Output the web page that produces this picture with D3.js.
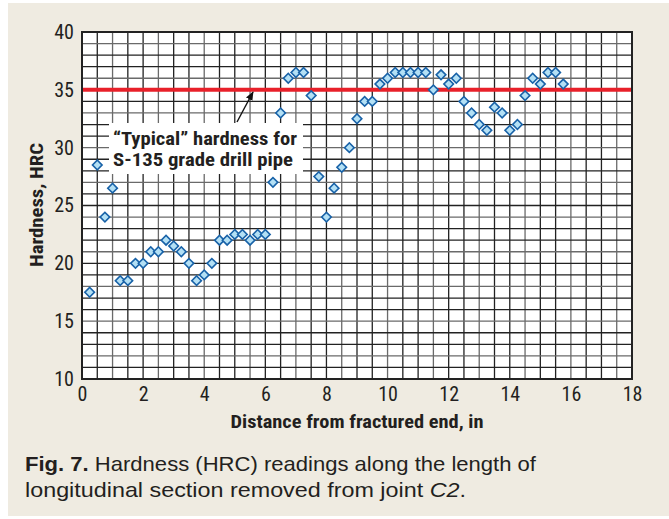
<!DOCTYPE html>
<html><head><meta charset="utf-8">
<script src="https://cdn.jsdelivr.net/npm/d3@7"></script>
<style>
body{margin:0;background:#fff;}
svg{display:block;}
.cond{font-family:"Liberation Sans Narrow","Roboto Condensed","DejaVu Sans Condensed",sans-serif;}
</style></head>
<body>
<svg id="c" width="669" height="519"></svg>
<script>
const distances = [0.25,0.5,0.75,1.0,1.25,1.5,1.75,2.0,2.25,2.5,2.75,3.0,3.25,3.5,3.75,4.0,4.25,4.5,4.75,5.0,5.25,5.5,5.75,6.0,6.25,6.5,6.75,7.0,7.25,7.5,7.75,8.0,8.25,8.5,8.75,9.0,9.25,9.5,9.75,10.0,10.25,10.5,10.75,11.0,11.25,11.5,11.75,12.0,12.25,12.5,12.75,13.0,13.25,13.5,13.75,14.0,14.25,14.5,14.75,15.0,15.25,15.5,15.75];
const hardness = [17.5,28.5,24,26.5,18.5,18.5,20,20,21,21,22,21.5,21,20,18.5,19,20,22,22,22.5,22.5,22,22.5,22.5,27,33,36,36.5,36.5,34.5,27.5,24,26.5,28.3,30,32.5,34,34,35.5,36,36.5,36.5,36.5,36.5,36.5,35,36.3,35.5,36,34,33,32,31.5,33.5,33,31.5,32,34.5,36,35.5,36.5,36.5,35.5];
const typicalHardness = 35;
const xTicks = [0,2,4,6,8,10,12,14,16,18];
const yTicks = [10,15,20,25,30,35,40];
const xDomain = [0,18], yDomain = [10,40];

const svg = d3.select("#c");
svg.append("rect").attr("x",8).attr("y",3).attr("width",661).attr("height",513).attr("fill","#efebe1");

const L=82, R=632, T=32, B=379;
const x = d3.scaleLinear().domain(xDomain).range([L,R]);
const y = d3.scaleLinear().domain(yDomain).range([B,T]);

svg.append("rect").attr("x",L).attr("y",T).attr("width",R-L).attr("height",B-T).attr("fill","#fff");

// grid
const g = svg.append("g");
d3.range(0.5,18,0.5).forEach((v,i)=>{
  g.append("line").attr("x1",x(v)).attr("x2",x(v)).attr("y1",T).attr("y2",B)
   .attr("stroke", i%3===1 ? "#6a6a6a" : "#222").attr("stroke-width",1.3);
});
d3.range(11,40,1).forEach((v,i)=>{
  g.append("line").attr("x1",L).attr("x2",R).attr("y1",y(v)).attr("y2",y(v))
   .attr("stroke", i%3===1 ? "#6a6a6a" : "#222").attr("stroke-width",1.3);
});

// annotation box (white, covers grid)
svg.append("rect").attr("x",109).attr("y",123).attr("width",194).attr("height",51).attr("fill","#fff");

// red line
svg.append("line").attr("x1",L).attr("x2",R).attr("y1",y(typicalHardness)).attr("y2",y(typicalHardness))
  .attr("stroke","#e8202a").attr("stroke-width",4);

// border
svg.append("rect").attr("x",L).attr("y",T).attr("width",R-L).attr("height",B-T)
  .attr("fill","none").attr("stroke","#222").attr("stroke-width",2);

// axes
const xAxis = svg.append("g").attr("transform",`translate(0,${B})`)
  .call(d3.axisBottom(x).tickValues(xTicks).tickSize(0).tickPadding(8).tickFormat(d3.format("d")));
xAxis.select(".domain").remove();
xAxis.selectAll("text").attr("class","cond").attr("font-size",20).attr("fill","#231f20").attr("font-family",null);

const yAxis = svg.append("g").attr("transform",`translate(${L},0)`)
  .call(d3.axisLeft(y).tickValues(yTicks).tickSize(0).tickPadding(8).tickFormat(d3.format("d")));
yAxis.select(".domain").remove();
yAxis.selectAll("text").attr("class","cond").attr("font-size",20).attr("fill","#231f20").attr("font-family",null);

// arrow
svg.append("defs").append("marker").attr("id","ah").attr("viewBox","0 0 10 10").attr("refX",9).attr("refY",5)
  .attr("markerWidth",9).attr("markerHeight",9).attr("orient","auto").attr("markerUnits","userSpaceOnUse")
  .append("path").attr("d","M0,1 L10,5 L0,9 Z").attr("fill","#111");
svg.append("line").attr("x1",237).attr("y1",122).attr("x2",253).attr("y2",92)
  .attr("stroke","#111").attr("stroke-width",1.4).attr("marker-end","url(#ah)");

// annotation text
svg.append("text").attr("class","cond").attr("x",113).attr("y",145).attr("font-size",19).attr("font-weight","bold")
  .attr("fill","#231f20").attr("textLength",184).attr("lengthAdjust","spacingAndGlyphs").text("\u201CTypical\u201D hardness for");
svg.append("text").attr("class","cond").attr("x",113).attr("y",166).attr("font-size",19).attr("font-weight","bold")
  .attr("fill","#231f20").attr("textLength",180).attr("lengthAdjust","spacingAndGlyphs").text("S-135 grade drill pipe");

// points
const sym = d3.symbol().type(d3.symbolSquare).size(46);
svg.append("g").selectAll("path").data(distances).join("path")
  .attr("d",sym)
  .attr("transform",(d,i)=>`translate(${x(d)},${y(hardness[i])}) rotate(45)`)
  .attr("fill","#b3e0f5").attr("stroke","#1862a8").attr("stroke-width",1.6);

// axis titles
svg.append("text").attr("class","cond").attr("x",(L+R)/2).attr("y",428).attr("text-anchor","middle")
  .attr("font-size",19).attr("font-weight","bold").attr("fill","#231f20")
  .attr("textLength",253).attr("lengthAdjust","spacingAndGlyphs").text("Distance from fractured end, in");
svg.append("text").attr("class","cond").attr("transform","translate(43,205) rotate(-90)").attr("text-anchor","middle")
  .attr("font-size",19).attr("font-weight","bold").attr("fill","#231f20")
  .attr("textLength",124).attr("lengthAdjust","spacingAndGlyphs").text("Hardness, HRC");

// caption
const cap1 = svg.append("text").attr("x",25).attr("y",471).attr("font-family","Liberation Sans, Arial, sans-serif").attr("font-size",21).attr("fill","#231f20")
  .attr("textLength",511).attr("lengthAdjust","spacingAndGlyphs");
cap1.append("tspan").attr("font-weight","bold").text("Fig. 7.");
cap1.append("tspan").text(" Hardness (HRC) readings along the length of");
const cap2 = svg.append("text").attr("x",25).attr("y",497).attr("font-family","Liberation Sans, Arial, sans-serif").attr("font-size",21).attr("fill","#231f20")
  .attr("textLength",441).attr("lengthAdjust","spacingAndGlyphs");
cap2.append("tspan").text("longitudinal section removed from joint ");
cap2.append("tspan").attr("font-style","italic").text("C2");
cap2.append("tspan").text(".");
</script>
</body></html>
